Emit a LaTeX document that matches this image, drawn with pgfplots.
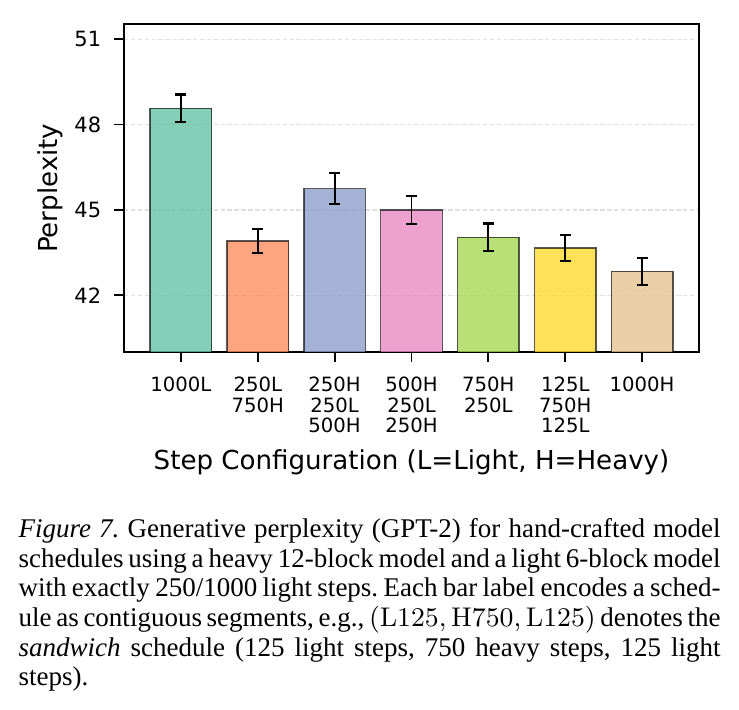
\documentclass[border=0pt]{standalone}
\usepackage[no-math]{fontspec}
\usepackage{pgfplots}
\pgfplotsset{compat=1.18}
\setmainfont{DejaVu Sans}
\newfontfamily\capfont{Liberation Serif}

% Set2 palette
\definecolor{setA}{HTML}{66C2A5}
\definecolor{setB}{HTML}{FC8D62}
\definecolor{setC}{HTML}{8DA0CB}
\definecolor{setD}{HTML}{E78AC3}
\definecolor{setE}{HTML}{A6D854}
\definecolor{setF}{HTML}{FFD92F}
\definecolor{setG}{HTML}{E5C494}

\pgfplotsset{
  stepbar/.style={
    ybar, bar width=0.8, bar shift=0pt,
    fill=#1, fill opacity=0.8,
    draw=black, draw opacity=0.65, line width=0.45pt,
    error bars/.cd,
      y dir=both, y explicit,
      error bar style={line width=0.6pt, black, draw opacity=1},
      error mark options={rotate=90, mark size=1.8pt, line width=0.8pt, black, draw opacity=1},
  },
}

\begin{document}
\begin{tikzpicture}
\path (0,0) rectangle (246.33pt,236.33pt);
\begin{axis}[
  at={(41.33pt,118.9pt)}, anchor=south west,
  scale only axis, width=191.67pt, height=109.33pt,
  xmin=-0.74, xmax=6.74, ymin=40, ymax=51.52,
  xtick={0,1,2,3,4,5,6},
  xticklabels={1000L,{250L\\750H},{250H\\250L\\500H},{500H\\250L\\250H},{750H\\250L},{125L\\750H\\125L},1000H},
  ytick={42,45,48,51},
  xtick pos=bottom, ytick pos=left,
  tick align=outside, major tick length=3.2pt,
  tick style={line width=0.6pt, black},
  axis line style={line width=0.8pt, black},
  ymajorgrids,
  grid style={dash pattern=on 1.5pt off 0.8pt, line width=0.4pt, black!12},
  /pgf/number format/assume math mode=true,
  yticklabel style={font=\fontsize{7}{8}\selectfont, anchor=east, inner sep=0pt, xshift=-4.2pt},
  xticklabel style={font=\fontsize{6.55}{6.8}\selectfont, align=center, anchor=north, inner sep=0pt, yshift=-4.9pt},
  xlabel={Step Configuration (L=Light, H=Heavy)},
  ylabel={Perplexity},
  xlabel style={font=\fontsize{8.7}{10}\selectfont, at={(axis description cs:0.5,-0.3567)}, anchor=base, inner sep=0pt},
  ylabel style={font=\fontsize{8.7}{10}\selectfont, at={(axis description cs:-0.1148,0.5)}, anchor=base, inner sep=0pt},
]
\addplot[stepbar=setA] coordinates {(0,48.57) +- (0,0.49)};
\addplot[stepbar=setB] coordinates {(1,43.91) +- (0,0.43)};
\addplot[stepbar=setC] coordinates {(2,45.75) +- (0,0.54)};
\addplot[stepbar=setD] coordinates {(3,45.00) +- (0,0.50)};
\addplot[stepbar=setE] coordinates {(4,44.04) +- (0,0.49)};
\addplot[stepbar=setF] coordinates {(5,43.66) +- (0,0.46)};
\addplot[stepbar=setG] coordinates {(6,42.84) +- (0,0.47)};
\end{axis}
\node[anchor=north west, inner sep=0pt, text width=234pt, align=justify,
      font=\capfont\fontsize{9}{9.85}\selectfont] at (6pt,64.13pt)
{\frenchspacing\hyphenpenalty=10000\strut\textit{Figure 7.} Generative perplexity (GPT-2) for hand-crafted model\linebreak
schedules using a heavy 12-block model and a light 6-block model\linebreak
with exactly 250/1000 light steps. Each bar label encodes a sched-\linebreak
ule as contiguous segments, e.g., $(\mathrm{L125},\mathrm{H750},\mathrm{L125})$ denotes the\linebreak
\textit{sandwich} schedule (125 light steps, 750 heavy steps, 125 light\linebreak
steps).};
\end{tikzpicture}
\end{document}
